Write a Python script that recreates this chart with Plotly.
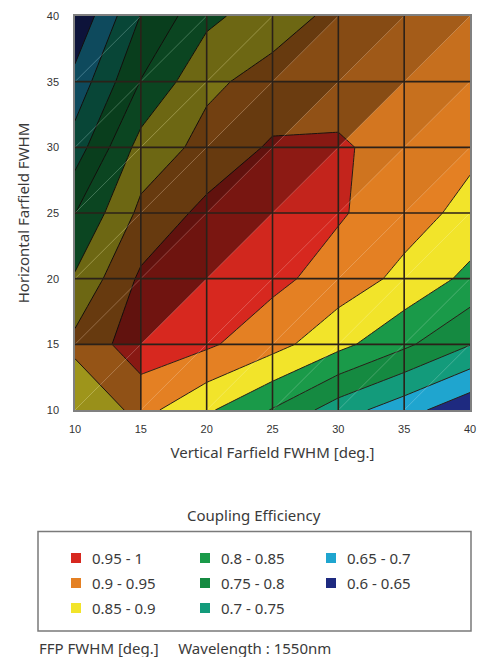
import numpy as np
import plotly.graph_objects as go

# ---------------- data ----------------
vertical_ffp = [10, 15, 20, 25, 30, 35, 40]      # x axis
horizontal_ffp = [10, 15, 20, 25, 30, 35, 40]    # y axis
# coupling efficiency, one list per horizontal FWHM row (y), values along vertical FWHM (x)
eff_h10 = [0.850, 0.917, 0.858, 0.797, 0.724, 0.670, 0.613]
eff_h15 = [0.914, 0.978, 0.958, 0.918, 0.865, 0.810, 0.752]
eff_h20 = [0.856, 0.959, 0.985, 0.963, 0.928, 0.887, 0.837]
eff_h25 = [0.799, 0.912, 0.964, 0.980, 0.9555, 0.921, 0.885]
eff_h30 = [0.723, 0.870, 0.915, 0.957, 0.956, 0.932, 0.911]
eff_h35 = [0.666, 0.802, 0.891, 0.916, 0.930, 0.936, 0.925]
eff_h40 = [0.607, 0.752, 0.837, 0.880, 0.911, 0.926, 0.928]

band_labels = ["0.6 - 0.65", "0.65 - 0.7", "0.7 - 0.75", "0.75 - 0.8",
               "0.8 - 0.85", "0.85 - 0.9", "0.9 - 0.95", "0.95 - 1"]
band_colors = ["#1e2a80", "#1fa5cf", "#139b7b", "#158a41",
               "#1a9a49", "#f2e42a", "#e48023", "#d7281f"]
level_start, level_end, level_step = 0.65, 0.95, 0.05
tick_values = [10, 15, 20, 25, 30, 35, 40]

Z = np.array([eff_h10, eff_h15, eff_h20, eff_h25, eff_h30, eff_h35, eff_h40])

# ---------------- layout helpers ----------------
W, H = 477, 657
L_M, R_M, T_M, B_M = 75, 7, 16, 247
PW, PH = W - L_M - R_M, H - T_M - B_M


def px(x):
    return (x - L_M) / PW


def py(y):
    return (H - B_M - y) / PH


nlev = len(band_colors) - 1
colorscale = [[k / nlev, c] for k, c in enumerate(band_colors)]

fig = go.Figure()
fig.add_trace(go.Contour(
    x=vertical_ffp, y=horizontal_ffp, z=Z,
    autocontour=False,
    contours=dict(start=level_start, end=level_end, size=level_step,
                  coloring="fill", showlines=True),
    colorscale=colorscale, showscale=False,
    line=dict(color="#2a1f19", width=1, smoothing=0),
    hoverinfo="skip",
))

# ---------------- relief shading (from surface slope) ----------------
s = 15.0
light = np.array([0.6, -0.6, 0.53])
light = light / np.linalg.norm(light)
amb, dif = 0.45, 0.65


def intensity(gx, gy):
    n = np.array([-s * gx, -s * gy, 1.0])
    n = n / np.linalg.norm(n)
    return min(1.0, amb + dif * max(0.0, float(n @ light)))


xs, ys = vertical_ffp, horizontal_ffp
diag_x, diag_y = [], []
for j in range(len(ys) - 1):
    for i in range(len(xs) - 1):
        zLL, zLR, zUL, zUR = Z[j, i], Z[j, i + 1], Z[j + 1, i], Z[j + 1, i + 1]
        tris = [
            ((xs[i], xs[i + 1], xs[i]), (ys[j], ys[j + 1], ys[j + 1]), zUR - zUL, zUL - zLL),
            ((xs[i], xs[i + 1], xs[i + 1]), (ys[j], ys[j], ys[j + 1]), zLR - zLL, zUR - zLR),
        ]
        for tx, ty, gx, gy in tris:
            a = 1.0 - intensity(gx, gy)
            fig.add_trace(go.Scatter(
                x=list(tx) + [tx[0]], y=list(ty) + [ty[0]],
                mode="lines", fill="toself",
                fillcolor=f"rgba(0,0,0,{a:.3f})",
                line=dict(width=0), hoverinfo="skip", showlegend=False,
            ))
        diag_x += [xs[i], xs[i + 1], None]
        diag_y += [ys[j], ys[j + 1], None]

# faint triangle seams
fig.add_trace(go.Scatter(x=diag_x, y=diag_y, mode="lines",
                         line=dict(color="rgba(255,255,255,0.28)", width=0.8),
                         hoverinfo="skip", showlegend=False))

# ---------------- grid lines above the surface ----------------
shapes = []
for v in tick_values[1:-1]:
    shapes.append(dict(type="line", xref="x", yref="y", x0=v, x1=v,
                       y0=tick_values[0], y1=tick_values[-1],
                       line=dict(color="#2b2119", width=1.6), layer="above"))
    shapes.append(dict(type="line", xref="x", yref="y", y0=v, y1=v,
                       x0=tick_values[0], x1=tick_values[-1],
                       line=dict(color="#2b2119", width=1.6), layer="above"))

# ---------------- legend (3 columns) ----------------
text_font = dict(family="Noto Sans, Open Sans, sans-serif", size=15, color="#3a3a3a")
annotations = []
annotations.append(dict(text="Coupling Efficiency", xref="paper", yref="paper",
                        x=px(254), y=py(515), xanchor="center", yanchor="middle",
                        showarrow=False, font=text_font))
shapes.append(dict(type="rect", xref="paper", yref="paper",
                   x0=px(38), x1=px(471), y0=py(531.5), y1=py(631),
                   line=dict(color="#7a7a7a", width=1.5), fillcolor="rgba(0,0,0,0)"))
col_sw = [71, 200, 326]
col_tx = [90, 219, 345]
row_y = [558, 583, 608]
order = list(range(len(band_labels)))[::-1]
for m, k in enumerate(order):
    c, r = m // 3, m % 3
    shapes.append(dict(type="rect", xref="paper", yref="paper",
                       x0=px(col_sw[c]), x1=px(col_sw[c] + 10),
                       y0=py(row_y[r] - 5), y1=py(row_y[r] + 5),
                       line=dict(width=0), fillcolor=band_colors[k]))
    annotations.append(dict(text=band_labels[k], xref="paper", yref="paper",
                            x=px(col_tx[c]), y=py(row_y[r]), xanchor="left",
                            yanchor="middle", showarrow=False, font=text_font))

annotations.append(dict(text="FFP FWHM [deg.]&nbsp;&nbsp;&nbsp;&nbsp;&nbsp;Wavelength : 1550nm",
                        xref="paper", yref="paper", x=px(37), y=py(648),
                        xanchor="left", yanchor="middle", showarrow=False,
                        font=text_font))

tick_font = dict(family="Liberation Sans, Arial, sans-serif", size=11, color="#333333")
axis_common = dict(range=[tick_values[0], tick_values[-1]], tickvals=tick_values,
                   showgrid=False, zeroline=False, showline=True, mirror=True,
                   linecolor="#808080", linewidth=1.5, ticks="",
                   tickfont=tick_font, fixedrange=True)

fig.update_layout(
    width=W, height=H,
    margin=dict(l=L_M, r=R_M, t=T_M, b=B_M, autoexpand=False),
    paper_bgcolor="white", plot_bgcolor="white",
    showlegend=False,
    xaxis=dict(**axis_common, ticklabelstandoff=8,
               title=dict(text="Vertical Farfield FWHM [deg.]", font=text_font, standoff=14)),
    yaxis=dict(**axis_common, ticklabelstandoff=12,
               title=dict(text="Horizontal Farfield FWHM", font=text_font, standoff=14)),
    shapes=shapes,
    annotations=annotations,
)

fig.write_html("out.html")
